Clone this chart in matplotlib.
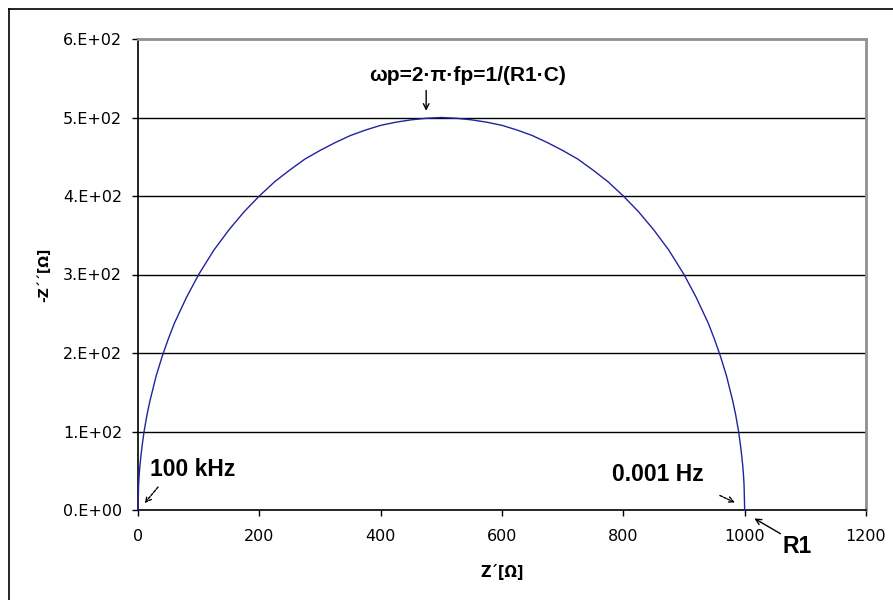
import matplotlib
matplotlib.use("Agg")
import matplotlib.pyplot as plt
from matplotlib.lines import Line2D

plt.rcParams['font.family'] = ['Liberation Sans', 'DejaVu Sans']

# Nyquist data
z_re = [0, 1, 2, 3, 5, 7, 10, 15, 20, 30, 40, 50, 60, 80, 100, 125, 150, 175,
        200, 225, 250, 275, 300, 325, 350, 375, 400, 425, 450, 475, 500,
        525, 550, 575, 600, 625, 650, 675, 700, 725, 750, 775, 800, 825, 850,
        875, 900, 920, 940, 950, 960, 970, 980, 985, 990, 993, 995, 997, 998, 999, 1000]
z_im = [0, 32, 45, 55, 70, 83, 100, 122, 140, 171, 196, 218, 238, 271, 300, 331, 357, 380,
        400, 418, 433, 447, 458, 468, 477, 484, 490, 494, 497, 499, 500,
        499, 497, 494, 490, 484, 477, 468, 458, 447, 433, 418, 400, 380, 357,
        331, 300, 271, 238, 218, 196, 171, 140, 122, 100, 83, 70, 55, 45, 32, 0]

x_ticks = [0, 200, 400, 600, 800, 1000, 1200]
x_ticklabels = ['0', '200', '400', '600', '800', '1000', '1200']
y_ticks = [0, 100, 200, 300, 400, 500, 600]
y_ticklabels = ['0.E+00', '1.E+02', '2.E+02', '3.E+02', '4.E+02', '5.E+02', '6.E+02']

fig = plt.figure(figsize=(8.93, 6.0), dpi=100)
ax = fig.add_axes([138/893, 90/600, (866-138)/893, (510-39)/600])

# outer frame (top and left lines)
fig.add_artist(Line2D([9/893, 1.0], [1-9/600, 1-9/600], color='black', lw=1.2,
                      transform=fig.transFigure))
fig.add_artist(Line2D([9/893, 9/893], [0, 1-9/600], color='black', lw=1.2,
                      transform=fig.transFigure))

ax.set_xlim(0, 1200)
ax.set_ylim(0, 600)
ax.set_xticks(x_ticks)
ax.set_xticklabels(x_ticklabels, family='DejaVu Sans', fontsize=11.5)
ax.set_yticks(y_ticks)
ax.set_yticklabels(y_ticklabels, family='DejaVu Sans', fontsize=11.5)
ax.tick_params(direction='out', length=4.5, width=1, colors='black')
ax.tick_params(axis='x', pad=9.5)
ax.tick_params(axis='y', pad=7)

for y in y_ticks[1:-1]:
    ax.axhline(y, color='black', lw=1, zorder=1)

ax.spines['left'].set_color('black')
ax.spines['bottom'].set_color('black')
ax.spines['left'].set_linewidth(1.2)
ax.spines['bottom'].set_linewidth(1.2)
ax.spines['top'].set_color('#909090')
ax.spines['right'].set_color('#909090')
ax.spines['top'].set_linewidth(2)
ax.spines['right'].set_linewidth(2)

ax.plot(z_re, z_im, color='#2222a0', lw=1, zorder=3, clip_on=False)

ax.set_xlabel('Z´[Ω]', fontsize=10.5, fontweight='bold', family='DejaVu Sans', labelpad=14)
ax.set_ylabel('-Z´´[Ω]', fontsize=10, fontweight='bold', family='DejaVu Sans', labelpad=8)

fs = 16.5
ax.annotate('ωp=2·π·fp=1/(R1·C)', xy=(475, 505), xytext=(544, 554),
            fontsize=15, fontweight='bold', ha='center', va='center',
            annotation_clip=False)
ax.annotate('', xy=(475, 505), xytext=(475, 538),
            arrowprops=dict(arrowstyle='->', color='black', lw=1), annotation_clip=False)

ax.text(19, 52, '100 kHz', fontsize=fs, fontweight='bold', ha='left', va='center')
ax.annotate('', xy=(8, 6), xytext=(36, 32),
            arrowprops=dict(arrowstyle='->', color='black', lw=1, linestyle=(0, (2, 1))),
            annotation_clip=False)

ax.text(781, 45, '0.001 Hz', fontsize=fs, fontweight='bold', ha='left', va='center')
ax.annotate('', xy=(988, 8), xytext=(955, 20),
            arrowprops=dict(arrowstyle='->', color='black', lw=1, linestyle=(0, (2, 1))),
            annotation_clip=False)

ax.text(1063, -47, 'R1', fontsize=fs, fontweight='bold', ha='left', va='center',
        clip_on=False)
ax.annotate('', xy=(1012, -9), xytext=(1063, -32),
            arrowprops=dict(arrowstyle='->', color='black', lw=1),
            annotation_clip=False)

fig.savefig('out.png', dpi=100)
